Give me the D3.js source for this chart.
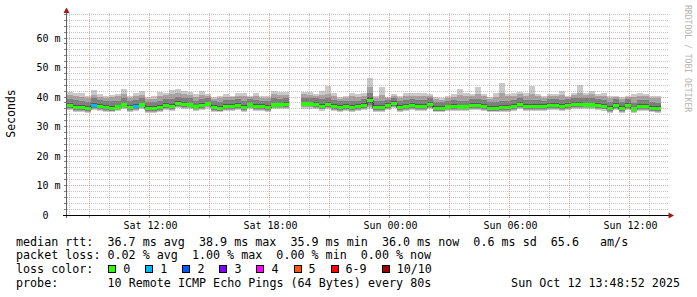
<!DOCTYPE html>
<html><head><meta charset="utf-8">
<script src="https://cdn.jsdelivr.net/npm/d3@7"></script>
<style>
html,body{margin:0;padding:0;background:#fff;}
svg{display:block;}
text{font-family:"DejaVu Sans Mono",monospace;fill:#000;}
</style></head><body>
<svg id="chart" width="697" height="297"></svg>
<script>
// ---------- data (milliseconds, one step = 18 min, 10 pings per step, sorted) ----------
const startTime = new Date(2025, 9, 11, 7, 52, 30);
const stepMinutes = 18;
const median = [37.0,36.5,36.5,36.0,37.2,36.8,36.5,36.2,36.6,37.3,
 36.5,36.8,37.3,36.0,36.0,36.5,37.2,36.8,37.8,37.5,
 37.3,36.6,37.2,37.6,36.5,36.2,36.8,36.8,37.2,36.5,
 37.3,36.7,36.7,36.4,37.3,37.3,37.5,null,null,37.6,
 37.6,37.4,36.9,37.5,36.8,36.4,36.7,36.4,36.7,37.0,
 38.9,36.4,36.4,37.0,37.8,36.4,36.7,37.0,36.7,36.7,
 37.4,36.2,36.2,36.6,36.7,36.6,36.6,37.0,37.0,36.8,
 36.2,36.2,36.5,36.5,36.8,37.4,36.8,36.7,36.7,36.7,
 37.1,37.2,36.7,37.1,37.5,37.5,37.3,37.3,37.1,36.9,
 36.0,37.2,36.0,37.1,35.9,36.8,36.8,36.2,36.0,null];
const lostPings = [0,0,0,0,1,0,0,0,0,0, 0,1,0,0,0,0,0,0,0,0, 0,0,0,0,0,0,0,0,0,0,
 0,0,0,0,0,0,0,null,null,0, 0,0,0,0,0,0,0,0,0,0, 0,0,0,0,0,0,0,0,0,0,
 0,0,0,0,0,0,0,0,0,0, 0,0,0,0,0,0,0,0,0,0, 0,0,0,0,0,0,0,0,0,0, 0,0,0,0,0,0,0,0,0,null];
const p1 = [35.5,35.0,35.0,34.6,35.7,35.3,35.0,34.8,35.1,35.8, 35.0,35.3,35.8,34.6,34.6,35.0,35.7,35.3,36.3,36.0,
 35.8,35.1,35.7,36.1,35.0,34.8,35.3,35.3,35.7,35.0, 35.8,35.2,35.2,34.9,35.8,35.8,36.0,null,null,36.1,
 36.1,35.9,35.4,36.0,35.3,34.9,35.2,34.9,35.2,35.5, 35.8,34.9,34.9,35.5,36.3,34.9,35.2,35.5,35.2,35.2,
 35.9,34.8,34.8,35.1,35.2,35.1,35.1,35.5,35.5,35.3, 34.8,34.8,35.0,35.0,35.3,35.9,35.3,35.2,35.2,35.2,
 35.6,35.7,35.2,35.6,36.0,36.0,35.8,35.8,35.6,35.4, 34.6,35.7,34.6,35.6,34.5,35.3,35.3,34.8,34.6,null];
const p2 = [35.9,35.4,35.4,35.0,36.1,35.7,35.4,35.1,35.5,36.2, 35.4,35.7,36.2,35.0,35.0,35.4,36.1,35.7,36.7,36.4,
 36.2,35.5,36.1,36.5,35.4,35.1,35.7,35.7,36.1,35.4, 36.2,35.6,35.6,35.3,36.2,36.2,36.4,null,null,36.5,
 36.5,36.3,35.8,36.4,35.7,35.3,35.6,35.3,35.6,35.9, 36.6,35.3,35.3,35.9,36.7,35.3,35.6,35.9,35.6,35.6,
 36.3,35.1,35.1,35.5,35.6,35.5,35.5,35.9,35.9,35.7, 35.1,35.1,35.4,35.4,35.7,36.3,35.7,35.6,35.6,35.6,
 36.0,36.1,35.6,36.0,36.4,36.4,36.2,36.2,36.0,35.8, 35.0,36.1,35.0,36.0,34.9,35.7,35.7,35.1,35.0,null];
const p3 = [36.2,35.7,35.7,35.2,36.4,36.0,35.7,35.4,35.8,36.5, 35.7,36.0,36.5,35.2,35.2,35.7,36.4,36.0,37.0,36.7,
 36.5,35.8,36.4,36.8,35.7,35.4,36.0,36.0,36.4,35.7, 36.5,35.9,35.9,35.6,36.5,36.5,36.7,null,null,36.8,
 36.8,36.6,36.1,36.7,36.0,35.6,35.9,35.6,35.9,36.2, 37.2,35.6,35.6,36.2,37.0,35.6,35.9,36.2,35.9,35.9,
 36.6,35.4,35.4,35.8,35.9,35.8,35.8,36.2,36.2,36.0, 35.4,35.4,35.7,35.7,36.0,36.6,36.0,35.9,35.9,35.9,
 36.3,36.4,35.9,36.3,36.7,36.7,36.5,36.5,36.3,36.1, 35.2,36.4,35.2,36.3,35.1,36.0,36.0,35.4,35.2,null];
const p4 = [36.5,36.0,36.0,35.5,36.7,36.3,36.0,35.7,36.1,36.8, 36.0,36.3,36.8,35.5,35.5,36.0,36.7,36.3,37.3,37.0,
 36.8,36.1,36.7,37.1,36.0,35.7,36.3,36.3,36.7,36.0, 36.8,36.2,36.2,35.9,36.8,36.8,37.0,null,null,37.1,
 37.1,36.9,36.4,37.0,36.3,35.9,36.2,35.9,36.2,36.5, 38.0,35.9,35.9,36.5,37.3,35.9,36.2,36.5,36.2,36.2,
 36.9,35.7,35.7,36.1,36.2,36.1,36.1,36.5,36.5,36.3, 35.7,35.7,36.0,36.0,36.3,36.9,36.3,36.2,36.2,36.2,
 36.6,36.7,36.2,36.6,37.0,37.0,36.8,36.8,36.6,36.4, 35.5,36.7,35.5,36.6,35.4,36.3,36.3,35.7,35.5,null];
const p5 = [36.8,36.3,36.3,35.8,37.0,36.6,36.3,36.0,36.4,37.1, 36.3,36.6,37.1,35.8,35.8,36.3,37.0,36.6,37.6,37.3,
 37.1,36.4,37.0,37.4,36.3,36.0,36.6,36.6,37.0,36.3, 37.1,36.5,36.5,36.2,37.1,37.1,37.3,null,null,37.4,
 37.4,37.2,36.7,37.3,36.6,36.2,36.5,36.2,36.5,36.8, 38.6,36.2,36.2,36.8,37.6,36.2,36.5,36.8,36.5,36.5,
 37.2,36.0,36.0,36.4,36.5,36.4,36.4,36.8,36.8,36.6, 36.0,36.0,36.3,36.3,36.6,37.2,36.6,36.5,36.5,36.5,
 36.9,37.0,36.5,36.9,37.3,37.3,37.1,37.1,36.9,36.7, 35.8,37.0,35.8,36.9,35.7,36.6,36.6,36.0,35.8,null];
const p6 = [37.2,36.7,36.7,36.2,37.4,37.0,36.7,36.4,36.8,37.5, 36.7,37.0,37.5,36.2,36.2,36.7,37.4,37.0,38.0,37.7,
 37.5,36.8,37.4,37.8,36.7,36.4,37.0,37.0,37.4,36.7, 37.5,36.9,36.9,36.6,37.5,37.5,37.7,null,null,37.8,
 37.8,37.6,37.1,37.7,37.0,36.6,36.9,36.6,36.9,37.2, 39.2,36.6,36.6,37.2,38.0,36.6,36.9,37.2,36.9,36.9,
 37.6,36.4,36.4,36.8,36.9,36.8,36.8,37.2,37.2,37.0, 36.4,36.4,36.7,36.7,37.0,37.6,37.0,36.9,36.9,36.9,
 37.3,37.4,36.9,37.3,37.7,37.7,37.5,37.5,37.3,37.1, 36.2,37.4,36.2,37.3,36.1,37.0,37.0,36.4,36.2,null];
const p7 = [37.8,37.3,37.2,36.9,38.0,37.6,37.3,37.0,37.4,38.1, 37.3,37.6,38.1,36.9,36.8,37.3,38.0,37.6,38.6,38.3,
 38.1,37.4,38.0,38.4,37.3,37.0,37.6,37.6,38.0,37.3, 38.1,37.5,37.5,37.2,38.1,38.1,38.3,null,null,38.4,
 38.4,38.2,37.7,38.3,37.6,37.2,37.5,37.2,37.5,37.8, 39.9,37.2,37.2,37.8,38.6,37.2,37.5,37.8,37.5,37.5,
 38.2,37.0,37.0,37.4,37.5,37.4,37.4,37.8,37.8,37.6, 37.0,37.0,37.3,37.3,37.6,38.2,37.6,37.5,37.5,37.5,
 37.9,38.0,37.5,37.9,38.3,38.3,38.1,38.1,37.9,37.7, 36.8,38.0,36.8,37.9,36.7,37.6,37.6,37.0,36.8,null];
const p8 = [39.2,38.9,38.7,38.3,39.5,38.9,38.6,38.5,38.8,39.6, 38.6,39.0,39.5,38.2,38.3,38.8,39.4,39.2,40.0,39.8,
 39.5,38.8,39.4,39.7,38.5,38.3,38.9,38.9,39.3,38.7, 39.3,38.9,38.8,38.5,39.5,39.4,39.6,null,null,39.8,
 39.7,39.5,39.2,39.8,39.0,38.5,38.8,38.6,38.8,39.2, 41.5,38.6,38.8,39.0,39.8,38.5,38.9,39.2,38.9,38.9,
 39.5,38.3,38.2,38.7,38.9,38.8,38.8,39.2,39.3,39.0, 38.3,38.4,38.8,38.7,39.0,39.6,39.0,38.9,38.9,38.8,
 39.3,39.4,38.9,39.2,39.7,39.7,39.5,39.5,39.3,39.1, 38.2,39.3,38.2,39.2,38.1,39.0,39.0,38.4,38.1,null];
const p9 = [40.6,40.3,40.0,39.6,40.8,40.0,39.8,39.9,40.2,40.9, 39.6,40.4,40.8,39.2,39.4,40.5,40.6,40.9,41.3,41.0,
 40.8,40.0,40.7,40.4,39.3,39.5,40.1,39.9,40.4,40.2, 39.9,40.3,39.8,39.5,40.9,40.7,40.6,null,null,40.9,
 40.8,40.2,40.6,41.0,40.3,39.4,39.8,40.2,40.0,40.4, 43.5,39.6,40.8,39.5,40.3,39.7,40.4,40.3,40.5,40.3,
 40.4,39.3,39.0,39.7,40.1,40.7,40.5,40.2,41.0,40.3, 39.4,40.0,41.2,40.2,40.5,40.9,40.4,40.9,40.2,39.8,
 40.2,40.3,40.8,39.9,40.6,41.2,40.6,40.9,40.2,40.4, 39.6,39.9,39.4,39.9,40.0,40.3,40.2,39.8,39.7,null];
const p10 = [41.8,41.5,41.3,40.3,42.5,41.0,40.5,40.8,41.0,42.6, 40.5,41.5,42.0,40.0,40.3,41.8,41.5,42.5,42.8,42.2,
 41.6,41.0,42.0,41.0,40.0,40.3,41.0,40.5,41.2,41.5, 40.5,41.5,40.5,40.3,42.0,41.8,41.8,null,null,41.8,
 41.8,41.0,42.0,43.7,41.5,40.0,40.5,41.3,41.0,41.5, 46.5,40.5,43.5,40.0,41.0,40.5,41.5,41.3,41.5,41.5,
 41.0,40.0,39.5,40.5,41.0,42.8,41.5,41.0,43.5,41.0, 40.0,41.2,44.8,41.0,41.5,41.8,41.5,43.8,41.0,40.5,
 41.0,41.0,42.0,40.5,41.2,44.0,41.5,42.0,41.0,41.5, 40.5,40.5,40.0,40.5,41.0,41.3,41.0,40.5,40.5,null];

const yTickValues = [0, 10, 20, 30, 40, 50, 60];
const yTickLabels = ["0  ", "10 m", "20 m", "30 m", "40 m", "50 m", "60 m"];
const xTickTimes = [new Date(2025,9,11,12), new Date(2025,9,11,18), new Date(2025,9,12,0), new Date(2025,9,12,6), new Date(2025,9,12,12)];
const xTickLabels = ["Sat 12:00", "Sat 18:00", "Sun 00:00", "Sun 06:00", "Sun 12:00"];
const lossLabels = ["0", "1", "2", "3", "4", "5", "6-9", "10/10"];
const lossColors = ["#26ff00", "#00b8ff", "#0059ff", "#7e00ff", "#ff00ff", "#ff5500", "#ff0000", "#a10000"];
const smokeColors = ["#cacaca", "#a4a4a4", "#7e7e7e", "#585858", "#323232"];
const legendRtt = "median rtt:  36.7 ms avg  38.9 ms max  35.9 ms min  36.0 ms now  0.6 ms sd  65.6   am/s";
const legendLoss = "packet loss: 0.02 % avg  1.00 % max  0.00 % min  0.00 % now";
const probeLabel = "probe:";
const probeText = "10 Remote ICMP Echo Pings (64 Bytes) every 80s";
const dateText = "Sun Oct 12 13:48:52 2025";
const yTitle = "Seconds";
const watermark = "RRDTOOL / TOBI OETIKER";

// ---------- drawing ----------
const nb = s => s.replace(/ /g, "\u00a0");
const svg = d3.select("#chart");
const endTime = d3.timeHour.offset(startTime, 30);
const x = d3.scaleTime().domain([startTime, endTime]).range([67, 667]);
const y = d3.scaleLinear().domain([0, 70]).range([215, 8.5]);
const tOf = i => d3.timeMinute.offset(startTime, i * stepMinutes);
const idx = d3.range(median.length).filter(i => median[i] != null);
const pings = [p1, p2, p3, p4, p5, p6, p7, p8, p9, p10];
const lossIndex = n => n <= 5 ? n : (n < 10 ? 6 : 7);

// smoke
const gSmoke = svg.append("g").attr("shape-rendering", "crispEdges");
smokeColors.forEach((c, k) => {
  const lo = pings[k], hi = pings[9 - k];
  gSmoke.append("g").selectAll("rect").data(idx).join("rect")
    .attr("x", i => x(tOf(i)))
    .attr("width", i => x(tOf(i + 1)) - x(tOf(i)))
    .attr("y", i => y(hi[i]))
    .attr("height", i => y(lo[i]) - y(hi[i]))
    .attr("fill", c);
});

// thin median step line
const medPts = [];
median.forEach((v, i) => {
  medPts.push({t: tOf(i), v}); medPts.push({t: tOf(i + 1), v});
});
svg.append("path")
  .attr("d", d3.line().defined(d => d.v != null).x(d => x(d.t)).y(d => Math.round(y(d.v)) + 0.5)(medPts))
  .attr("fill", "none").attr("stroke", "#202020").attr("stroke-width", 1);

// median band coloured by loss
const sw = 0.55;
svg.append("g").attr("shape-rendering", "crispEdges").selectAll("rect").data(idx).join("rect")
  .attr("x", i => x(tOf(i)))
  .attr("width", i => x(tOf(i + 1)) - x(tOf(i)))
  .attr("y", i => y(median[i] + sw))
  .attr("height", i => y(median[i] - sw) - y(median[i] + sw))
  .attr("fill", i => lossColors[lossIndex(lostPings[i])]);

// grid (on top, semi transparent)
const gGrid = svg.append("g").attr("stroke-dasharray", "1,1").attr("stroke-width", 1).attr("shape-rendering", "crispEdges");
const yTop = y(68.5);
const minorCol = "rgba(150,150,150,0.55)", majorCol = "rgba(230,100,100,0.6)";
d3.range(2, 69, 2).forEach(v => {
  const major = v % 10 === 0;
  const yy = Math.floor(y(v)) + 0.5;
  gGrid.append("line").attr("x1", 67).attr("x2", 668).attr("y1", yy).attr("y2", yy)
    .attr("stroke", major ? majorCol : minorCol);
});
d3.timeHour.range(startTime, endTime).forEach(t => {
  const major = t.getHours() % 3 === 0;
  const xx = Math.floor(x(t)) + 0.5;
  gGrid.append("line").attr("x1", xx).attr("x2", xx).attr("y1", yTop).attr("y2", 215)
    .attr("stroke", major ? majorCol : minorCol);
});

// axis lines, ticks, arrows
const gAx = svg.append("g").attr("shape-rendering", "crispEdges");
gAx.append("line").attr("x1", 66.5).attr("x2", 66.5).attr("y1", 12).attr("y2", 218).attr("stroke", "#606060");
gAx.append("line").attr("x1", 63).attr("x2", 669).attr("y1", 215.5).attr("y2", 215.5).attr("stroke", "#000");
d3.range(2, 69, 2).forEach(v => {
  const yy = Math.floor(y(v)) + 0.5;
  gAx.append("line").attr("x1", 64).attr("x2", 66).attr("y1", yy).attr("y2", yy).attr("stroke", "#808080");
});
d3.timeHour.every(3).range(startTime, endTime).forEach(t => {
  const xx = Math.floor(x(t)) + 0.5;
  gAx.append("line").attr("x1", xx).attr("x2", xx).attr("y1", 216).attr("y2", 218).attr("stroke", "#e08080");
});
svg.append("path").attr("d", "M66.5,7.5L63.5,13L69.5,13Z").attr("fill", "#a01818");
svg.append("path").attr("d", "M674,215.5L668.5,212.5L668.5,218.5Z").attr("fill", "#a01818");

// axis labels via d3 axes
const yAxis = d3.axisLeft(y).tickValues(yTickValues).tickFormat((d, i) => nb(yTickLabels[i])).tickSize(0).tickPadding(6);
svg.append("g").attr("transform", "translate(66.5,0)").call(yAxis)
  .call(g => g.select(".domain").remove())
  .call(g => g.attr("font-family", "DejaVu Sans Mono").attr("font-size", 10))
  .call(g => g.selectAll("text").attr("fill", "#000"));
const xAxis = d3.axisBottom(x).tickValues(xTickTimes).tickFormat((d, i) => xTickLabels[i]).tickSize(0).tickPadding(6.5);
svg.append("g").attr("transform", "translate(0.5,215)").call(xAxis)
  .call(g => g.select(".domain").remove())
  .call(g => g.attr("font-family", "DejaVu Sans Mono").attr("font-size", 10))
  .call(g => g.selectAll("text").attr("fill", "#000"));

// titles
svg.append("text").attr("transform", "translate(15,113.5) rotate(-90)")
  .attr("text-anchor", "middle").attr("font-size", 11.5).text(yTitle);
svg.append("text").attr("transform", "translate(685,5) rotate(90)")
  .attr("font-size", 8.1).style("fill", "#b4b4b4").text(watermark);

// legend
const fs = 11.7, cw = fs * 0.602;
const leg = svg.append("g").attr("font-size", fs);
leg.append("text").attr("x", 16).attr("y", 245.5).text(nb(legendRtt));
leg.append("text").attr("x", 16).attr("y", 259.3).text(nb(legendLoss));
leg.append("text").attr("x", 16).attr("y", 273).text(nb("loss color:"));
let bx = 108.3;
lossLabels.forEach((lab, i) => {
  leg.append("rect").attr("x", Math.round(bx) + 0.5).attr("y", 265.5).attr("width", 7).attr("height", 7)
    .attr("fill", lossColors[i]).attr("stroke", "#000").attr("stroke-width", 1).attr("shape-rendering", "crispEdges");
  leg.append("text").attr("x", bx + 15).attr("y", 273).text(lab);
  bx += 15 + lab.length * cw + 15;
});
leg.append("text").attr("x", 16).attr("y", 286.7).text(probeLabel);
leg.append("text").attr("x", 16 + 13 * cw).attr("y", 286.7).text(nb(probeText));
leg.append("text").attr("x", 680).attr("y", 286.7).attr("text-anchor", "end").text(nb(dateText));
</script>
</body></html>
